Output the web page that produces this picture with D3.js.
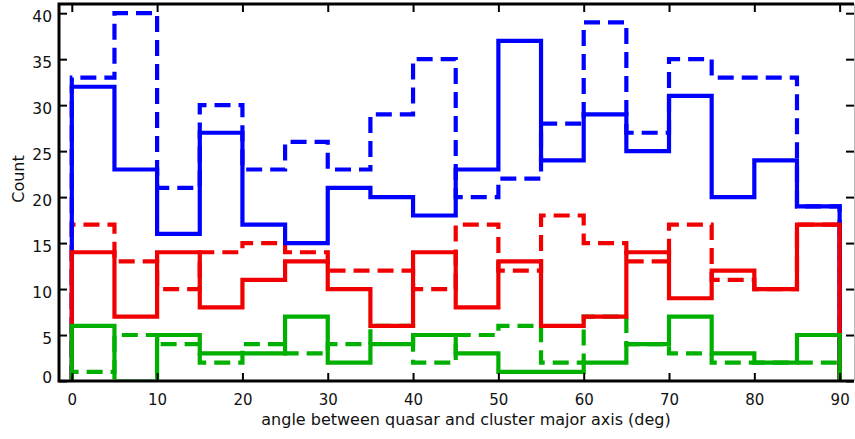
<!DOCTYPE html>
<html>
<head>
<meta charset="utf-8">
<script src="https://cdn.jsdelivr.net/npm/d3@7"></script>
<style>
  html, body { margin: 0; padding: 0; background: #fff; }
  svg { display: block; }
  text { font-family: "DejaVu Sans", sans-serif; fill: #111; }
</style>
</head>
<body>
<svg id="chart" width="855" height="439"></svg>
<script>
// ---- data ----
const binEdges = [0, 5, 10, 15, 20, 25, 30, 35, 40, 45, 50, 55, 60, 65, 70, 75, 80, 85, 90];
const blueSolid  = [32, 23, 16, 27, 17, 15, 21, 20, 18, 23, 37, 24, 29, 25, 31, 20, 24, 19];
const blueDashed = [33, 40, 21, 30, 23, 26, 23, 29, 35, 20, 22, 28, 39, 27, 35, 33, 33, 19];
const redSolid   = [14, 7, 14, 8, 11, 13, 10, 6, 14, 8, 13, 6, 7, 14, 9, 12, 10, 17];
const redDashed  = [17, 13, 10, 14, 15, 14, 12, 12, 10, 17, 12, 18, 15, 13, 17, 11, 10, 17];
const greenSolid = [6, 0, 5, 3, 3, 7, 2, 4, 5, 3, 1, 1, 2, 4, 7, 3, 2, 5];
const greenDashed= [1, 5, 4, 2, 4, 3, 4, 6, 2, 5, 6, 2, 7, 4, 3, 2, 2, 2];
const xTicks = [0, 10, 20, 30, 40, 50, 60, 70, 80, 90];
const yTicks = [0, 5, 10, 15, 20, 25, 30, 35, 40];
const xLabel = "angle between quasar and cluster major axis (deg)";
const yLabel = "Count";

const series = [
  { values: blueDashed,  color: "#0000ff", dashed: true },
  { values: redDashed,   color: "#f00000", dashed: true },
  { values: greenDashed, color: "#00b000", dashed: true },
  { values: blueSolid,   color: "#0000ff", dashed: false },
  { values: redSolid,    color: "#f00000", dashed: false },
  { values: greenSolid,  color: "#00b000", dashed: false }
];

// ---- layout ----
const L = 59, R = 855, T = 4, B = 381;
const svg = d3.select("#chart");
const x = d3.scaleLinear().domain([-1.5, 91.8]).range([L, R]);
const y = d3.scaleLinear().domain([0, 41]).range([B, T]);

svg.append("defs").append("clipPath").attr("id", "plotclip")
  .append("rect").attr("x", L).attr("y", T).attr("width", R - L).attr("height", B - T - 1.5);

const plot = svg.append("g").attr("clip-path", "url(#plotclip)");
const line = d3.line().x(d => x(d[0])).y(d => y(d[1])).curve(d3.curveStepAfter);

series.forEach(s => {
  const pts = [[binEdges[0], 0]];
  s.values.forEach((v, i) => pts.push([binEdges[i], v]));
  const last = s.values[s.values.length - 1];
  pts.push([binEdges[binEdges.length - 1], last]);
  pts.push([binEdges[binEdges.length - 1], 0]);
  plot.append("path")
    .attr("d", line(pts))
    .attr("fill", "none")
    .attr("stroke", s.color)
    .attr("stroke-width", 4.2)
    .attr("stroke-linejoin", "miter")
    .attr("stroke-dasharray", s.dashed ? "16,8" : null);
});

// ---- axes ----
const tickLen = 8;
const axB = svg.append("g").attr("transform", `translate(0,${B})`)
  .call(d3.axisBottom(x).tickValues(xTicks).tickSize(-tickLen).tickPadding(13).tickFormat(d3.format("d")));
const axT = svg.append("g").attr("transform", `translate(0,${T})`)
  .call(d3.axisTop(x).tickValues(xTicks).tickSize(-tickLen).tickFormat(""));
const axL = svg.append("g").attr("transform", `translate(${L},0)`)
  .call(d3.axisLeft(y).tickValues(yTicks).tickSize(-tickLen).tickPadding(7).tickFormat(d3.format("d")));
const axR = svg.append("g").attr("transform", `translate(${R - 1},0)`)
  .call(d3.axisRight(y).tickValues(yTicks).tickSize(-tickLen).tickFormat(""));

[axB, axT, axL, axR].forEach(g => {
  g.select(".domain").remove();
  g.selectAll(".tick line").attr("stroke", "#000").attr("stroke-width", 2);
  g.selectAll(".tick text").attr("font-size", 15.5).attr("fill", "#111")
    .attr("font-family", "DejaVu Sans, sans-serif");
});
axB.selectAll(".tick text").attr("font-size", 15);
axL.selectAll(".tick text").attr("dy", "0.55em")
  .filter(d => d === 0).attr("dy", "0.1em");

// frame
svg.append("path")
  .attr("d", `M${R - 1},${T} H${L} V${B} H${R - 1}`)
  .attr("fill", "none").attr("stroke", "#000").attr("stroke-width", 3);
svg.append("line")
  .attr("x1", R - 0.5).attr("x2", R - 0.5).attr("y1", T).attr("y2", B)
  .attr("stroke", "#bbb").attr("stroke-width", 1);

// labels
svg.append("text")
  .attr("x", (L + R) / 2 + 9).attr("y", 425)
  .attr("text-anchor", "middle").attr("font-size", 16)
  .text(xLabel);
svg.append("text")
  .attr("transform", `translate(24,179) rotate(-90)`)
  .attr("text-anchor", "middle").attr("font-size", 16)
  .text(yLabel);
</script>
</body>
</html>
